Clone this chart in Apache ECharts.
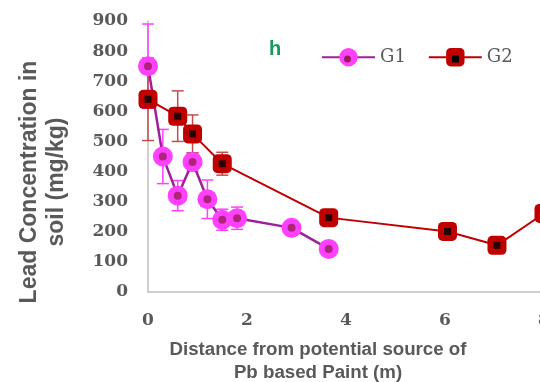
<!DOCTYPE html>
<html><head><meta charset="utf-8">
<script src="https://cdn.jsdelivr.net/npm/echarts@6/dist/echarts.min.js"></script>
<style>html,body{margin:0;padding:0;background:#fff}#c{width:540px;height:382px}</style>
</head><body><div id="c"></div><script>
// Data
const distG1 = [0, 0.3, 0.6, 0.9, 1.2, 1.5, 1.8, 2.9, 3.65];
const leadG1 = [750, 450, 320, 432, 308, 240, 245, 213, 143];
const errG1  = [140, 90, 50, 30, 64, 35, 37, 18, 0];
const distG2 = [0, 0.6, 0.9, 1.5, 3.65, 6.05, 7.05, 8];
const leadG2 = [640, 584, 525, 426, 247, 201, 155, 261];
const errG2  = [137, 84, 63, 38, 0, 0, 0, 0];
const xTickLabels = ['0', '2', '4', '6', '8'];
const yTickLabels = ['0','100','200','300','400','500','600','700','800','900'];
const seriesNames = ['G1', 'G2'];

const grey = '#595959';
const c1Line = '#9e1f9a', c1Fill = '#ff40ff', c1Dot = '#9b1b5a', c1Err = '#ff40ff';
const c2Line = '#c00000', c2Fill = '#c00000', c2Dot = '#000000', c2Err = '#c0504d';

function pts(xs, ys) { return xs.map((x, i) => [x, ys[i]]); }
function errData(xs, ys, es) { return xs.map((x, i) => [x, ys[i] - es[i], ys[i] + es[i]]).filter((d, i) => es[i] > 0); }

function errRender(color) {
  return function (params, api) {
    const x = api.value(0), lo = api.value(1), hi = api.value(2);
    const pLo = api.coord([x, lo]), pHi = api.coord([x, hi]);
    const cap = 6;
    const st = { stroke: color, lineWidth: 1.5 };
    return {
      type: 'group',
      children: [
        { type: 'line', shape: { x1: pLo[0], y1: pLo[1], x2: pHi[0], y2: pHi[1] }, style: st },
        { type: 'line', shape: { x1: pLo[0] - cap, y1: pLo[1], x2: pLo[0] + cap, y2: pLo[1] }, style: st },
        { type: 'line', shape: { x1: pHi[0] - cap, y1: pHi[1], x2: pHi[0] + cap, y2: pHi[1] }, style: st }
      ]
    };
  };
}

const chart = echarts.init(document.getElementById('c'), null, { renderer: 'canvas' });
chart.setOption({
  animation: false,
  backgroundColor: '#fff',
  grid: { left: 148, top: 21, right: -4, bottom: 90, containLabel: false, outerBoundsMode: 'none' },
  xAxis: {
    type: 'value', min: 0, max: 8, interval: 2,
    axisLine: { show: true, lineStyle: { color: '#bfbfbf', width: 1.5 } },
    axisTick: { show: false },
    splitLine: { show: false },
    axisLabel: {
      margin: 20, color: grey, fontFamily: 'DejaVu Serif', fontWeight: 'bold', fontSize: 17,
      formatter: (v) => xTickLabels[Math.round(v / 2)] ?? ''
    }
  },
  yAxis: {
    type: 'value', min: 0, max: 900, interval: 100,
    axisLine: { show: true, lineStyle: { color: '#bfbfbf', width: 1.5 } },
    axisTick: { show: false },
    splitLine: { show: false },
    axisLabel: {
      margin: 20, color: grey, fontFamily: 'DejaVu Serif', fontWeight: 'bold', fontSize: 17,
      formatter: (v) => yTickLabels[Math.round(v / 100)] ?? ''
    }
  },
  legend: {
    data: seriesNames,
    left: 316, top: 43,
    itemWidth: 53, itemHeight: 23, itemGap: 22,
    textStyle: { color: grey, fontFamily: 'DejaVu Serif', fontSize: 18 }
  },
  graphic: [
    { type: 'text', x: 275, y: 49, style: { text: 'h', fill: '#159a55', font: 'bold 20px "Liberation Sans"', align: 'center', verticalAlign: 'middle' } },
    { type: 'text', x: 43, y: 182, rotation: Math.PI / 2,
      style: { text: 'Lead Concentration in\nsoil (mg/kg)', fill: grey, font: 'bold 23px "Liberation Sans"',
               align: 'center', verticalAlign: 'middle', lineHeight: 27 } },
    { type: 'text', x: 318, y: 361,
      style: { text: 'Distance from potential source of\nPb based Paint (m)', fill: grey, font: 'bold 18.7px "Liberation Sans"',
               align: 'center', verticalAlign: 'middle', lineHeight: 23 } },
    { type: 'circle', shape: { cx: 347.5, cy: 59, r: 3.5 }, style: { fill: c1Dot }, z: 100 },
    { type: 'rect', shape: { x: 452, y: 55.5, width: 7, height: 7 }, style: { fill: c2Dot }, z: 100 }
  ],
  series: [
    { name: 'G1err', type: 'custom', renderItem: errRender(c1Err), data: errData(distG1, leadG1, errG1), z: 1, silent: true },
    { name: 'G2err', type: 'custom', renderItem: errRender(c2Err), data: errData(distG2, leadG2, errG2), z: 1, silent: true },
    { name: 'G1', type: 'line', data: pts(distG1, leadG1), z: 2,
      lineStyle: { color: c1Line, width: 2.5 },
      symbol: 'circle', symbolSize: 20,
      itemStyle: { color: c1Fill, borderColor: c1Fill, borderWidth: 0 } },
    { name: 'G1dot', type: 'scatter', data: pts(distG1, leadG1), z: 3, silent: true,
      symbol: 'circle', symbolSize: 8, itemStyle: { color: c1Dot } },
    { name: 'G2', type: 'line', data: pts(distG2, leadG2), z: 4,
      lineStyle: { color: c2Line, width: 2 },
      symbol: 'roundRect', symbolSize: 19,
      itemStyle: { color: c2Fill } },
    { name: 'G2dot', type: 'scatter', data: pts(distG2, leadG2), z: 5, silent: true,
      symbol: 'rect', symbolSize: 7, itemStyle: { color: c2Dot } }
  ]
});
</script></body></html>
